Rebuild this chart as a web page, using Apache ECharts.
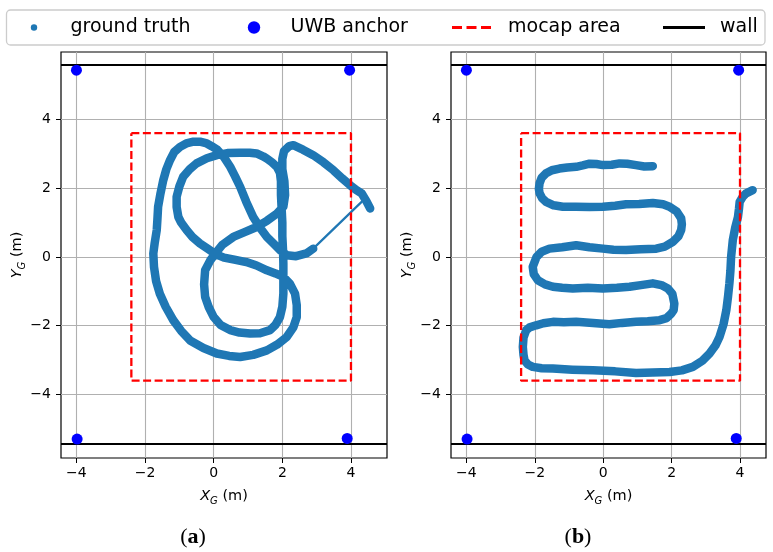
<!DOCTYPE html>
<html><head><meta charset="utf-8">
<script src="https://cdn.jsdelivr.net/npm/echarts@6/dist/echarts.min.js"></script>
<style>html,body{margin:0;padding:0;background:#fff}#c{width:773px;height:552px}</style>
</head><body><div id="c"></div>
<script>
// ---------- data ----------
const xTicks = [-4, -2, 0, 2, 4];
const yTicks = [-4, -2, 0, 2, 4];
const xRangeA = [-4.45, 5.05];
const xRangeB = [-4.45, 4.76];
const yRange = [-5.85, 5.96];

const trajA = [
[2.90,0.24],[2.70,0.10],[2.40,0.02],[2.13,0.05],[1.93,0.20],[1.75,0.38],[1.55,0.58],[1.35,0.85],[1.15,1.16],[0.95,1.60],
[0.77,2.04],[0.62,2.35],[0.48,2.62],[0.30,2.90],[0.10,3.12],[-0.06,3.22],[-0.20,3.30],[-0.40,3.35],[-0.59,3.35],[-0.80,3.30],
[-0.98,3.20],[-1.15,3.05],[-1.27,2.82],[-1.38,2.55],[-1.47,2.23],[-1.55,1.85],[-1.62,1.46],[-1.64,1.10],[-1.66,0.78],[-1.72,0.40],
[-1.76,0.10],[-1.74,-0.29],[-1.68,-0.70],[-1.57,-1.07],[-1.40,-1.45],[-1.18,-1.84],[-0.95,-2.15],[-0.69,-2.43],[-0.30,-2.65],[0.09,-2.81],
[0.45,-2.88],[0.77,-2.91],[1.15,-2.85],[1.55,-2.72],[1.85,-2.55],[2.13,-2.33],[2.32,-2.05],[2.42,-1.75],[2.42,-1.40],[2.37,-1.07],
[2.22,-0.78],[2.03,-0.58],[1.80,-0.48],[1.55,-0.39],[1.25,-0.25],[0.95,-0.15],[0.60,-0.08],[0.30,-0.02],[0.05,0.08],[-0.15,0.22],
[-0.40,0.39],[-0.62,0.58],[-0.79,0.78],[-0.95,1.00],[-1.03,1.16],[-1.08,1.45],[-1.08,1.75],[-1.00,2.05],[-0.89,2.33],[-0.70,2.55],
[-0.50,2.72],[-0.20,2.87],[0.09,2.96],[0.40,3.02],[0.77,3.03],[1.05,3.03],[1.25,3.01],[1.45,2.92],[1.55,2.86],[1.70,2.75],
[1.84,2.62],[1.93,2.45],[1.96,2.20],[1.96,1.80],[1.98,1.40],[2.00,1.00],[2.00,0.60],[2.02,0.20],[2.03,-0.20],[2.03,-0.60],
[2.03,-1.07],[2.00,-1.45],[1.93,-1.75],[1.80,-1.98],[1.64,-2.13],[1.35,-2.22],[1.06,-2.23],[0.75,-2.20],[0.48,-2.13],[0.20,-1.98],
[0.00,-1.75],[-0.15,-1.45],[-0.25,-1.16],[-0.28,-0.80],[-0.25,-0.39],[-0.10,-0.10],[0.05,0.10],[0.25,0.35],[0.57,0.58],[0.90,0.72],
[1.25,0.87],[1.55,1.05],[1.84,1.26],[2.03,1.46],[2.08,1.80],[2.06,2.20],[2.00,2.55],[2.00,2.85],[2.05,3.08],[2.20,3.22],
[2.32,3.25],[2.60,3.12],[2.90,2.96],[3.20,2.75],[3.49,2.52],[3.75,2.28],[3.97,2.09],[4.15,1.95],[4.31,1.85],[4.45,1.62],[4.56,1.41]
];
const trajAGap = [[4.31,1.60],[2.90,0.24]];

const trajB = [
[1.45,2.64],[1.20,2.63],[0.96,2.67],[0.70,2.71],[0.48,2.72],[0.25,2.68],[-0.01,2.67],[-0.20,2.70],[-0.40,2.71],[-0.60,2.66],
[-0.79,2.62],[-1.05,2.60],[-1.28,2.57],[-1.50,2.52],[-1.67,2.43],[-1.80,2.30],[-1.86,2.14],[-1.88,1.98],[-1.86,1.85],[-1.78,1.70],
[-1.67,1.60],[-1.45,1.50],[-1.18,1.46],[-0.80,1.46],[-0.40,1.45],[-0.01,1.46],[0.35,1.49],[0.67,1.53],[1.05,1.54],[1.45,1.57],
[1.75,1.53],[1.94,1.46],[2.15,1.32],[2.28,1.12],[2.30,0.95],[2.28,0.78],[2.20,0.60],[2.04,0.44],[1.80,0.30],[1.55,0.24],
[1.10,0.22],[0.67,0.20],[0.30,0.21],[-0.01,0.24],[-0.40,0.28],[-0.79,0.34],[-1.20,0.28],[-1.57,0.24],[-1.80,0.15],[-1.95,0.00],
[-2.06,-0.29],[-2.03,-0.50],[-1.91,-0.68],[-1.70,-0.80],[-1.47,-0.87],[-1.20,-0.90],[-0.89,-0.92],[-0.45,-0.90],[-0.01,-0.92],[0.40,-0.90],
[0.77,-0.87],[1.10,-0.82],[1.45,-0.77],[1.70,-0.82],[1.89,-0.92],[2.02,-1.07],[2.08,-1.36],[2.06,-1.55],[1.99,-1.65],[1.85,-1.78],
[1.65,-1.84],[1.30,-1.87],[0.96,-1.89],[0.55,-1.92],[0.18,-1.96],[-0.30,-1.92],[-0.79,-1.89],[-1.15,-1.90],[-1.47,-1.89],[-1.75,-1.93],
[-1.96,-1.99],[-2.15,-2.05],[-2.25,-2.13],[-2.33,-2.35],[-2.35,-2.62],[-2.33,-2.85],[-2.30,-3.01],[-2.20,-3.13],[-2.06,-3.20],[-1.80,-3.24],
[-1.47,-3.25],[-0.90,-3.28],[-0.30,-3.30],[0.35,-3.33],[0.96,-3.38],[1.45,-3.36],[1.94,-3.35],[2.30,-3.30],[2.62,-3.20],[2.90,-3.02],
[3.11,-2.81],[3.28,-2.58],[3.40,-2.33],[3.52,-1.95],[3.60,-1.55],[3.65,-1.15],[3.69,-0.77],[3.72,-0.40],[3.74,0.00],[3.79,0.49],
[3.86,0.85],[3.94,1.16],[3.97,1.40],[3.99,1.60],[4.08,1.75],[4.18,1.85],[4.37,1.94]
];

const anchorsX = [-4.00, 3.96, -3.98, 3.89];
const anchorsY = [5.43, 5.43, -5.30, -5.28];
const mocapX = [-2.4, 4.0, 4.0, -2.4, -2.4];
const mocapY = [3.6, 3.6, -3.6, -3.6, 3.6];
const wallY = [5.6, -5.45];
const legendNames = ['ground truth', 'UWB anchor', 'mocap area', 'wall'];
const panelLabels = ['a', 'b'];

// ---------- chart ----------
const FONT = 'DejaVu Sans';
const BLUE = '#1f77b4';
function fmt(v) { return v < 0 ? '\u2212' + Math.abs(v) : String(v); }
function zip(xs, ys) { return xs.map((x, i) => [x, ys[i]]); }

function makeX(i, r) {
  return {
    type: 'value', gridIndex: i, min: r[0], max: r[1], position: 'bottom',
    axisLine: { show: false, onZero: false },
    axisTick: { show: true, length: 5, customValues: xTicks, lineStyle: { color: '#000', width: 1 } },
    axisLabel: { customValues: xTicks, formatter: fmt, color: '#000', fontSize: 14, fontFamily: FONT, margin: 8 },
    splitLine: { show: true, lineStyle: { color: '#b0b0b0', width: 1.1 } }
  };
}
function makeY(i) {
  return {
    type: 'value', gridIndex: i, min: yRange[0], max: yRange[1], position: 'left',
    axisLine: { show: false, onZero: false },
    axisTick: { show: true, length: 5, customValues: yTicks, lineStyle: { color: '#000', width: 1 } },
    axisLabel: { customValues: yTicks, formatter: fmt, color: '#000', fontSize: 14, fontFamily: FONT, margin: 10 },
    splitLine: { show: true, lineStyle: { color: '#b0b0b0', width: 1.1 } }
  };
}

function panelSeries(i, traj, gap) {
  const s = [];
  s.push({ type: 'line', name: legendNames[0], xAxisIndex: i, yAxisIndex: i, data: traj, symbol: 'none',
    lineStyle: { color: BLUE, width: 8.5, cap: 'round', join: 'round' }, z: 3, silent: true });
  if (gap) s.push({ type: 'line', xAxisIndex: i, yAxisIndex: i, data: gap, symbol: 'none',
    lineStyle: { color: BLUE, width: 2.2, cap: 'round' }, z: 3, silent: true });
  s.push({ type: 'scatter', name: legendNames[1], xAxisIndex: i, yAxisIndex: i, data: zip(anchorsX, anchorsY),
    symbolSize: 11, itemStyle: { color: '#0000ff', opacity: 1 }, z: 5, silent: true });
  s.push({ type: 'line', name: legendNames[2], xAxisIndex: i, yAxisIndex: i, data: zip(mocapX, mocapY), symbol: 'none',
    lineStyle: { color: '#ff0000', width: 2.3, type: [8, 3.5] }, z: 4, silent: true });
  s.push({ type: 'line', name: legendNames[3], xAxisIndex: i, yAxisIndex: i, data: [], symbol: 'none',
    markLine: { symbol: 'none', silent: true, animation: false, label: { show: false },
      lineStyle: { color: '#000', width: 2, type: 'solid' }, data: wallY.map(v => ({ yAxis: v })) }, z: 4 });
  return s;
}

const gridA = { left: 61, top: 52, width: 326, height: 406 };
const gridB = { left: 451, top: 52, width: 315, height: 406 };

function axisTitle(x, y, letter, rot) {
  return {
    type: 'text', x: x, y: y, rotation: rot || 0, z: 10,
    style: {
      text: '{i|' + letter + '}{s|G}{n| (m)}', align: 'center', verticalAlign: 'middle',
      rich: {
        i: { fontFamily: FONT, fontStyle: 'italic', fontSize: 14.5, lineHeight: 20, verticalAlign: 'middle', fill: '#000' },
        s: { fontFamily: FONT, fontStyle: 'italic', fontSize: 10, lineHeight: 12, verticalAlign: 'bottom', fill: '#000' },
        n: { fontFamily: FONT, fontSize: 14.5, lineHeight: 20, verticalAlign: 'middle', fill: '#000' }
      }
    }
  };
}
function caption(x, y, letter) {
  return {
    type: 'text', x: x, y: y, z: 10,
    style: {
      text: '{p|(}{b|' + letter + '}{p|)}', align: 'center', verticalAlign: 'middle',
      rich: {
        p: { fontFamily: 'Liberation Serif', fontSize: 22, fill: '#000' },
        b: { fontFamily: 'Liberation Serif', fontSize: 22, fontWeight: 'bold', fill: '#000' }
      }
    }
  };
}

const LY = 27.5;
const legendText = (x, t) => ({ type: 'text', x: x, y: LY, z: 21,
  style: { text: t, fontFamily: FONT, fontSize: 19, fill: '#000', align: 'left', verticalAlign: 'middle' } });

const graphic = [
  { type: 'rect', z: 20, shape: { x: 6.5, y: 10, width: 758.5, height: 35, r: 4 },
    style: { fill: '#fff', stroke: '#cccccc', lineWidth: 1.3 } },
  { type: 'circle', z: 21, shape: { cx: 34, cy: LY, r: 3.2 }, style: { fill: BLUE } },
  legendText(70.5, legendNames[0]),
  { type: 'circle', z: 21, shape: { cx: 254, cy: LY, r: 6.2 }, style: { fill: '#0000ff' } },
  legendText(290.5, legendNames[1]),
  { type: 'line', z: 21, shape: { x1: 452, y1: LY, x2: 492, y2: LY },
    style: { stroke: '#ff0000', lineWidth: 3, lineDash: [10, 4.5] } },
  legendText(508, legendNames[2]),
  { type: 'line', z: 21, shape: { x1: 663, y1: LY, x2: 705, y2: LY }, style: { stroke: '#000', lineWidth: 3 } },
  legendText(720, legendNames[3]),
  axisTitle(224, 496, 'X'),
  axisTitle(608.5, 496, 'X'),
  axisTitle(17, 255, 'Y', Math.PI / 2),
  axisTitle(407, 255, 'Y', Math.PI / 2),
  caption(193, 537, panelLabels[0]),
  caption(578, 537, panelLabels[1])
];

const option = {
  animation: false,
  backgroundColor: '#fff',
  grid: [
    Object.assign({ show: true, borderColor: '#000', borderWidth: 1.2, backgroundColor: 'transparent' }, gridA),
    Object.assign({ show: true, borderColor: '#000', borderWidth: 1.2, backgroundColor: 'transparent' }, gridB)
  ],
  xAxis: [makeX(0, xRangeA), makeX(1, xRangeB)],
  yAxis: [makeY(0), makeY(1)],
  series: [].concat(panelSeries(0, trajA, trajAGap), panelSeries(1, trajB, null)),
  graphic: graphic
};

const chart = echarts.init(document.getElementById('c'), null, { renderer: 'canvas' });
chart.setOption(option);
</script>
</body></html>
